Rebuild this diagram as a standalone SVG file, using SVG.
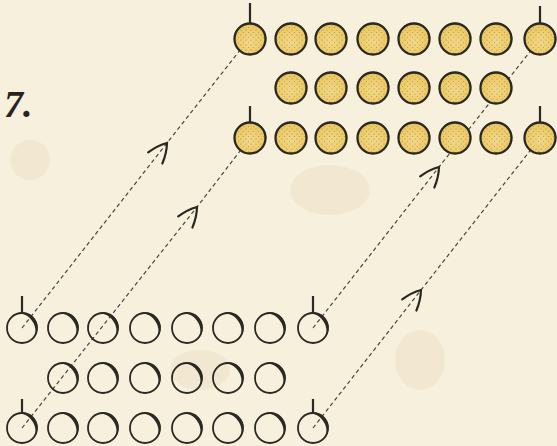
<svg xmlns="http://www.w3.org/2000/svg" xmlns:xlink="http://www.w3.org/1999/xlink" width="557" height="446" viewBox="0 0 557 446">
<style>
.bg{fill:#f6f0dc}
.wring{fill:none;stroke:#2b2924;stroke-width:1.8}
.shade{fill:#2b2924}
.yring{fill:#ebc862;stroke:#2b2822;stroke-width:2.3}
.dots{fill:url(#stip)}
.stem{stroke:#2b2924;stroke-width:2.2;stroke-linecap:butt}
.conn{fill:none;stroke:#4a463f;stroke-width:1.2;stroke-dasharray:4 3;marker-mid:url(#arr)}
.fig{font-family:"Liberation Serif","DejaVu Serif",serif;font-style:italic;font-weight:bold;font-size:38px;fill:#262420}
</style>
<defs>
<pattern id="stip" width="5" height="5" patternUnits="userSpaceOnUse">
<circle cx="1" cy="1" r="0.55" fill="#8a6a28" opacity="0.7"/>
<circle cx="3.5" cy="3.5" r="0.5" fill="#8a6a28" opacity="0.6"/>
</pattern>
<radialGradient id="hl" cx="0.5" cy="0.6" r="0.55">
<stop offset="0" stop-color="#f6e3a6" stop-opacity="0.6"/>
<stop offset="1" stop-color="#f6e3a6" stop-opacity="0"/>
</radialGradient>
<marker id="arr" markerUnits="userSpaceOnUse" markerWidth="30" markerHeight="30" viewBox="-25 -15 30 30" refX="0" refY="0" orient="auto" overflow="visible">
<path d="M-19,-9 Q-8,-6 0,0 Q-8,6 -19,9" fill="none" stroke="#2a2722" stroke-width="2.2" stroke-linecap="round"/>
</marker>
<g id="wc">
<circle class="wring" r="15"/>
<path class="shade" transform="rotate(-35)" d="M0,-15.5 A15.5,15.5 0 0 1 0,15.5 A12,15 0 0 0 0,-15.5 Z"/>
</g>
<g id="yc">
<circle class="yring" r="15.5"/>
<circle r="14" fill="url(#hl)"/>
<circle class="dots" r="14"/>
<path class="shade" transform="rotate(-70)" d="M0,-16.3 A16.3,16.3 0 0 1 0,16.3 A14.3,15.5 0 0 0 0,-16.3 Z"/>
</g>
</defs>
<rect class="bg" width="557" height="446"/>
<g opacity="0.18">
<ellipse cx="330" cy="190" rx="40" ry="25" fill="#e3c8a0"/>
<ellipse cx="200" cy="370" rx="30" ry="20" fill="#e3c8a0"/>
<ellipse cx="420" cy="360" rx="25" ry="30" fill="#e3c8a0"/>
<ellipse cx="30" cy="160" rx="20" ry="20" fill="#e3c8a0"/>
</g>

<text class="fig" x="4" y="117">7.</text>

<g id="connectors">
<path class="conn" d="M22,328 L167,143 L248,40"/>
<path class="conn" d="M22,428 L197,207 L250,138"/>
<path class="conn" d="M313,328 L439,167 L540,39"/>
<path class="conn" d="M313,428 L421,290 L540,138"/>
</g>

<g id="yellow-top">
<g id="yt1"><line class="stem" x1="250" y1="3" x2="250" y2="24"/><use xlink:href="#yc" x="250" y="39"/></g>
<g id="yt2"><use xlink:href="#yc" x="291" y="39"/></g>
<g id="yt3"><use xlink:href="#yc" x="331" y="39"/></g>
<g id="yt4"><use xlink:href="#yc" x="373" y="39"/></g>
<g id="yt5"><use xlink:href="#yc" x="414" y="39"/></g>
<g id="yt6"><use xlink:href="#yc" x="455" y="39"/></g>
<g id="yt7"><use xlink:href="#yc" x="496" y="39"/></g>
<g id="yt8"><line class="stem" x1="540" y1="6" x2="540" y2="24"/><use xlink:href="#yc" x="540" y="39"/></g>
</g>
<g id="yellow-mid">
<g id="ym1"><use xlink:href="#yc" x="291" y="88"/></g>
<g id="ym2"><use xlink:href="#yc" x="331" y="88"/></g>
<g id="ym3"><use xlink:href="#yc" x="373" y="88"/></g>
<g id="ym4"><use xlink:href="#yc" x="414" y="88"/></g>
<g id="ym5"><use xlink:href="#yc" x="455" y="88"/></g>
<g id="ym6"><use xlink:href="#yc" x="496" y="88"/></g>
</g>
<g id="yellow-bottom">
<g id="yb1"><line class="stem" x1="250" y1="106" x2="250" y2="123"/><use xlink:href="#yc" x="250" y="138"/></g>
<g id="yb2"><use xlink:href="#yc" x="291" y="138"/></g>
<g id="yb3"><use xlink:href="#yc" x="331" y="138"/></g>
<g id="yb4"><use xlink:href="#yc" x="373" y="138"/></g>
<g id="yb5"><use xlink:href="#yc" x="414" y="138"/></g>
<g id="yb6"><use xlink:href="#yc" x="455" y="138"/></g>
<g id="yb7"><use xlink:href="#yc" x="496" y="138"/></g>
<g id="yb8"><line class="stem" x1="540" y1="106" x2="540" y2="123"/><use xlink:href="#yc" x="540" y="138"/></g>
</g>

<g id="white-top">
<g id="wt1"><line class="stem" x1="22" y1="296" x2="22" y2="313"/><use xlink:href="#wc" x="22" y="328"/></g>
<g id="wt2"><use xlink:href="#wc" x="63" y="328"/></g>
<g id="wt3"><use xlink:href="#wc" x="103" y="328"/></g>
<g id="wt4"><use xlink:href="#wc" x="145" y="328"/></g>
<g id="wt5"><use xlink:href="#wc" x="187" y="328"/></g>
<g id="wt6"><use xlink:href="#wc" x="228" y="328"/></g>
<g id="wt7"><use xlink:href="#wc" x="270" y="328"/></g>
<g id="wt8"><line class="stem" x1="313" y1="296" x2="313" y2="313"/><use xlink:href="#wc" x="313" y="328"/></g>
</g>
<g id="white-mid">
<g id="wm1"><use xlink:href="#wc" x="63" y="378"/></g>
<g id="wm2"><use xlink:href="#wc" x="103" y="378"/></g>
<g id="wm3"><use xlink:href="#wc" x="145" y="378"/></g>
<g id="wm4"><use xlink:href="#wc" x="187" y="378"/></g>
<g id="wm5"><use xlink:href="#wc" x="228" y="378"/></g>
<g id="wm6"><use xlink:href="#wc" x="270" y="378"/></g>
</g>
<g id="white-bottom">
<g id="wb1"><line class="stem" x1="22" y1="399" x2="22" y2="413"/><use xlink:href="#wc" x="22" y="428"/></g>
<g id="wb2"><use xlink:href="#wc" x="63" y="428"/></g>
<g id="wb3"><use xlink:href="#wc" x="103" y="428"/></g>
<g id="wb4"><use xlink:href="#wc" x="145" y="428"/></g>
<g id="wb5"><use xlink:href="#wc" x="187" y="428"/></g>
<g id="wb6"><use xlink:href="#wc" x="228" y="428"/></g>
<g id="wb7"><use xlink:href="#wc" x="270" y="428"/></g>
<g id="wb8"><line class="stem" x1="313" y1="399" x2="313" y2="413"/><use xlink:href="#wc" x="313" y="428"/></g>
</g>
</svg>
